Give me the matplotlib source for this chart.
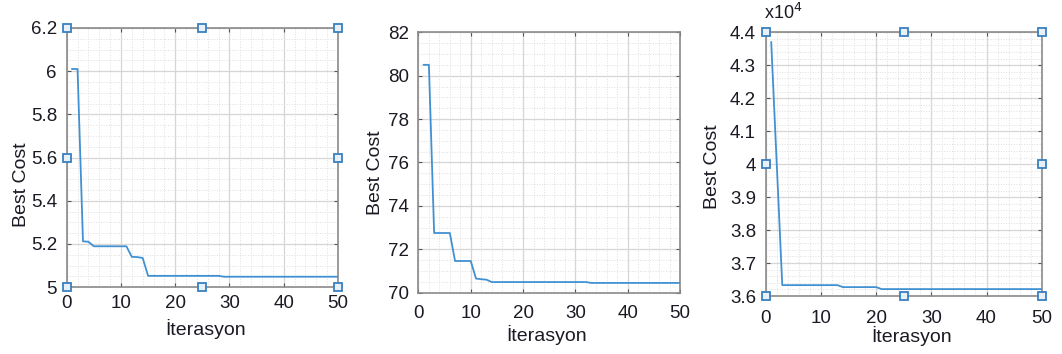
import numpy as np
import matplotlib.pyplot as plt
from matplotlib.ticker import MultipleLocator, FuncFormatter

plt.rcParams['font.family'] = ['Liberation Sans', 'DejaVu Sans']

# Best cost per iteration
iters = np.arange(1, 51)
cost1 = [6.01, 6.01, 5.212, 5.21] + [5.189] * 7 + [5.14, 5.139, 5.135] + [5.052] * 14 + [5.048] * 22
cost2 = [80.5, 80.5, 72.75, 72.75, 72.75, 72.75, 71.46, 71.46, 71.46, 71.46,
         70.65, 70.62, 70.6] + [70.49] * 19 + [70.45] * 18
cost3 = [43700, 40000] + [36330] * 11 + [36270] * 7 + [36210] * 30

x_ticks = [0, 10, 20, 30, 40, 50]
y1_ticks = [5, 5.2, 5.4, 5.6, 5.8, 6, 6.2]
y2_ticks = [70, 72, 74, 76, 78, 80, 82]
y3_ticks = [36000, 37000, 38000, 39000, 40000, 41000, 42000, 43000, 44000]

line_col = '#4191d2'
text_col = '#1a1a24'

fig = plt.figure(figsize=(10.62, 3.54), dpi=100)
ax1 = fig.add_axes([0.0628, 0.189, 0.2555, 0.732])
ax2 = fig.add_axes([0.394, 0.1732, 0.2464, 0.7356])
ax3 = fig.add_axes([0.721, 0.1638, 0.2599, 0.745])

# axes, data, y ticks, minor step, ylabel pos, xlabel pos, x tick pad
setups = [
    (ax1, cost1, y1_ticks, 0.05, (-0.165, 0.394), (0.51, -0.16), 6),
    (ax2, cost2, y2_ticks, 0.5, (-0.163, 0.46), (0.49, -0.162), 9),
    (ax3, cost3, y3_ticks, 200, (-0.191, 0.489), (0.53, -0.152), 10),
]

for ax, cost, yt, yminor, ylpos, xlpos, xpad in setups:
    ax.plot(iters, cost, color=line_col, lw=1.3, zorder=3)
    ax.set_xlim(0, 50)
    ax.set_ylim(yt[0], yt[-1])
    ax.set_xticks(x_ticks)
    ax.set_yticks(yt)
    ax.xaxis.set_minor_locator(MultipleLocator(2))
    ax.yaxis.set_minor_locator(MultipleLocator(yminor))
    ax.grid(True, which='major', color='#d6d6d6', lw=0.9)
    ax.grid(True, which='minor', color='#dedede', lw=0.7, ls=':')
    ax.set_axisbelow(True)
    ax.tick_params(which='both', direction='in', top=True, right=True,
                   labelsize=13.5, colors='#555555', labelcolor=text_col)
    ax.tick_params(which='major', length=3, width=0.8)
    ax.tick_params(which='minor', length=0)
    ax.tick_params(axis='y', pad=7)
    ax.tick_params(axis='x', pad=xpad)
    for s in ax.spines.values():
        s.set_color('#8a8a8a')
        s.set_linewidth(1.2)
    ax.set_xlabel('İterasyon', fontsize=14, color=text_col)
    ax.set_ylabel('Best Cost', fontsize=14, color=text_col)
    ax.xaxis.set_label_coords(*xlpos)
    ax.yaxis.set_label_coords(*ylpos)
    ax.xaxis.label.set_va('center')
    ax.yaxis.label.set_va('center')

ax1.yaxis.set_major_formatter(FuncFormatter(lambda v, p: f'{v:g}'))
ax3.yaxis.set_major_formatter(FuncFormatter(lambda v, p: f'{v / 1e4:g}'))
ax3.text(-0.005, 1.035, 'x10$^4$', transform=ax3.transAxes, fontsize=13,
         color=text_col, ha='left', va='bottom')

# selection handles of the edited axes
hx = [0, 0.5, 1, 0, 1, 0, 0.5, 1]
hy = [0, 0, 0, 0.5, 0.5, 1, 1, 1]
for ax in (ax1, ax3):
    ax.plot(hx, hy, ls='none', marker='s', ms=6, mfc='#e8f1fa', mec='#3a7fc0',
            mew=1.3, transform=ax.transAxes, clip_on=False, zorder=5)

fig.savefig('out.png', dpi=100)
